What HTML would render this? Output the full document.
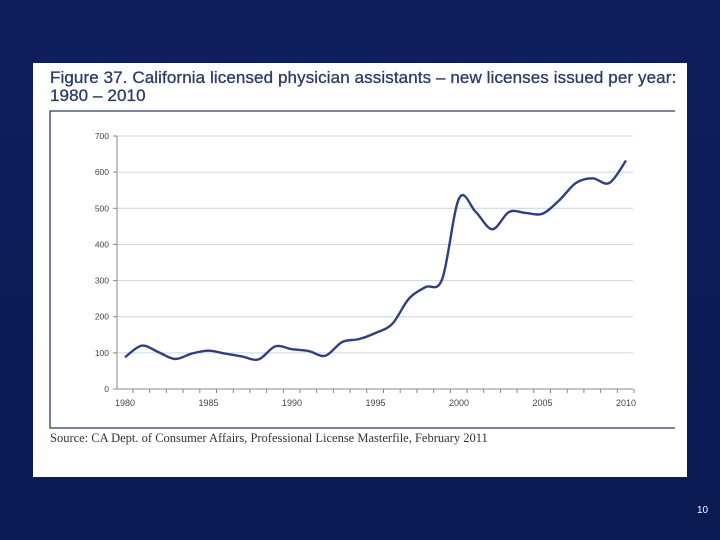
<!DOCTYPE html>
<html><head><meta charset="utf-8"><style>
html,body{margin:0;padding:0;}
body{width:720px;height:540px;overflow:hidden;background:linear-gradient(180deg,#0e1f5e 0%,#0b1b55 60%,#0a1a52 100%);position:relative;font-family:"Liberation Sans",sans-serif;}
#panel{position:absolute;left:33px;top:63px;width:654px;height:414px;background:#fff;}
#title{position:absolute;left:50px;top:69px;font-size:17px;line-height:18px;color:#2b3a66;letter-spacing:0.1px;-webkit-text-stroke:0.3px #2b3a66;white-space:nowrap;}
#src{position:absolute;left:50px;top:431px;font-family:"Liberation Serif",serif;font-size:12.5px;color:#333;}
#pg{position:absolute;left:697px;top:505px;font-size:10px;color:#fff;}
</style></head><body>
<div id="panel"></div>
<div id="title">Figure 37. California licensed physician assistants – new licenses issued per year:<br>1980 – 2010</div>
<svg id="chart" width="720" height="540" style="position:absolute;left:0;top:0"></svg>
<div id="src">Source: CA Dept. of Consumer Affairs, Professional License Masterfile, February 2011</div>
<div id="pg">10</div>
<script>
const years=[1980,1981,1982,1983,1984,1985,1986,1987,1988,1989,1990,1991,1992,1993,1994,1995,1996,1997,1998,1999,2000,2001,2002,2003,2004,2005,2006,2007,2008,2009,2010];
const licenses=[88,120,102,83,98,106,98,90,82,118,110,105,92,130,138,155,180,250,282,305,527,490,442,490,487,485,522,570,583,570,632];
const yTicks=[0,100,200,300,400,500,600,700];
const xLabels=[1980,1985,1990,1995,2000,2005,2010];
const NS="http://www.w3.org/2000/svg";
const svg=document.getElementById('chart');
const x=v=>125+(v-1980)*(626-125)/30;
const y=v=>389-v*(389-136)/700;
function mk(t,a){const e=document.createElementNS(NS,t);for(const k in a)e.setAttribute(k,a[k]);svg.appendChild(e);return e;}
let fr=mk('path',{d:'M675 111 H50 V428 H675',fill:'none',stroke:'#2b3a66','stroke-width':1.3});


yTicks.forEach(t=>{
 if(t>0){let g=mk('line',{x1:117,x2:633,y1:y(t),y2:y(t),stroke:'#c9d6e0','stroke-width':1});
 
 }
 let tk=mk('line',{x1:113,x2:117,y1:y(t),y2:y(t),stroke:'#888'});
 
 
 let l=mk('text',{x:109,y:y(t)+3,'text-anchor':'end','font-size':8.5,fill:'#444'});l.textContent=t;
 
 
});
let ya=mk('line',{x1:117,x2:117,y1:136,y2:389,stroke:'#888'});


let xa=mk('line',{x1:117,x2:633,y1:389,y2:389,stroke:'#888'});


years.forEach(yr=>{let t=mk('line',{x1:x(yr)+8,x2:x(yr)+8,y1:389,y2:393,stroke:'#888'});
 
 });
xLabels.forEach(yr=>{let l=mk('text',{x:x(yr),y:406,'text-anchor':'middle','font-size':9,fill:'#444'});l.textContent=yr;
 
 });
const pts=years.map((yr,i)=>[x(yr),y(licenses[i])]);
let d='M'+pts[0][0]+' '+pts[0][1];
for(let i=0;i<pts.length-1;i++){const p0=pts[i-1]||pts[i],p1=pts[i],p2=pts[i+1],p3=pts[i+2]||p2;
 d+=` C${p1[0]+(p2[0]-p0[0])/6} ${p1[1]+(p2[1]-p0[1])/6} ${p2[0]-(p3[0]-p1[0])/6} ${p2[1]-(p3[1]-p1[1])/6} ${p2[0]} ${p2[1]}`;}
let ln=mk('path',{d:d,fill:'none',stroke:'#2f3f7f','stroke-width':2.4,'stroke-linejoin':'round'});


</script>
</body></html>
